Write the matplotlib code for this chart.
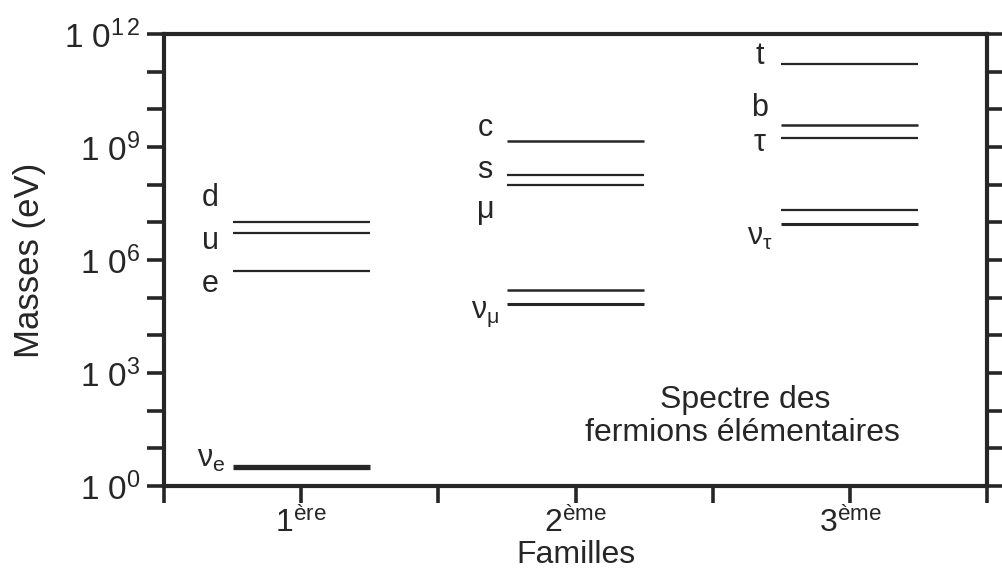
import numpy as np
import matplotlib
matplotlib.use("Agg")
import matplotlib.pyplot as plt
from matplotlib.ticker import NullLocator

plt.rcParams['font.family'] = ['Liberation Sans', 'DejaVu Sans']
plt.rcParams['mathtext.fontset'] = 'custom'
plt.rcParams['mathtext.rm'] = 'Liberation Sans'
plt.rcParams['mathtext.it'] = 'Liberation Sans'
plt.rcParams['mathtext.bf'] = 'Liberation Sans:bold'

INK = '#262626'

# --- data: fermion masses (eV) per family ---
family_pos = [1, 2, 3]
family_labels = [r'1$^{\mathrm{ère}}$', r'2$^{\mathrm{ème}}$', r'3$^{\mathrm{ème}}$']

masses_1 = [1.0e7, 5.1e6, 5.2e5, 3.2]          # d, u, e, nu_e
masses_2 = [1.45e9, 1.8e8, 9.8e7, 1.6e5, 6.8e4]  # c, s, mu, nu_mu (two bounds)
masses_3 = [1.6e11, 3.8e9, 1.75e9, 2.1e7, 9.1e6]  # t, b, tau, nu_tau (two bounds)

names_1 = ['d', 'u', 'e', r'$\nu_{\mathrm{e}}$']
names_2 = ['c', 's', r'$\mu$', None, r'$\nu_{\mu}$']
names_3 = ['t', 'b', r'$\tau$', None, r'$\nu_{\tau}$']

# line widths and label offsets (pixels, relative to the line)
widths_1 = [1.6, 1.6, 1.6, 3.8]
widths_2 = [1.8, 1.6, 1.6, 1.8, 2.2]
widths_3 = [1.6, 1.8, 1.6, 1.6, 2.2]
offs_1 = [24, -8, -13, 8]
offs_2 = [13, 5, -27, 0, -10]
offs_3 = [8, 17, -5, 0, -13]

fig = plt.figure(figsize=(10.02, 5.73), dpi=100)
ax = fig.add_axes([0.1637, 0.1518, 0.8214, 0.7889])

half = 0.25
for xc, ms, nm, lw, off in zip(family_pos,
                               [masses_1, masses_2, masses_3],
                               [names_1, names_2, names_3],
                               [widths_1, widths_2, widths_3],
                               [offs_1, offs_2, offs_3]):
    for m, n, w, o in zip(ms, nm, lw, off):
        ax.hlines(m, xc - half, xc + half, color=INK, lw=w)
        if n is not None:
            ax.annotate(n, xy=(xc - 0.33, m), xytext=(0, o),
                        textcoords='offset pixels', ha='center', va='center',
                        fontsize=22, color=INK)

ax.text(2.62, 10**2.28, 'Spectre des', ha='center', va='center',
        fontsize=23, color=INK)
ax.text(2.61, 10**1.42, 'fermions élémentaires', ha='center', va='center',
        fontsize=23, color=INK)

ax.set_yscale('log')
ax.set_ylim(1, 1e12)
ax.set_xlim(0.5, 3.5)

decades = np.arange(0, 13)
ax.set_yticks(10.0**decades)
ylabels = []
for d in decades:
    if d == 12:
        ylabels.append(r'1 0$^{1\,2}$')
    elif d % 3 == 0:
        ylabels.append(r'1 0$^{%d}$' % d)
    else:
        ylabels.append('')
ax.set_yticklabels(ylabels)
ax.yaxis.set_minor_locator(NullLocator())
ax.set_xticks(np.arange(0.5, 3.51, 0.5))
ax.set_xticklabels(['', family_labels[0], '', family_labels[1], '',
                    family_labels[2], ''])
ax.xaxis.set_minor_locator(NullLocator())

ax.tick_params(axis='y', which='major', direction='out', length=12, width=2.6,
               color=INK, labelsize=24, labelcolor=INK, right=True, pad=5)
ax.tick_params(axis='x', which='major', direction='out', length=12, width=2.6,
               color=INK, labelsize=23, labelcolor=INK, pad=3)

for s in ax.spines.values():
    s.set_linewidth(3)
    s.set_color(INK)

ax.set_xlabel('Familles', fontsize=23, color=INK, labelpad=1)
ax.set_ylabel('Masses (eV)', fontsize=25, color=INK, labelpad=13)

fig.savefig('out.png', dpi=100)
